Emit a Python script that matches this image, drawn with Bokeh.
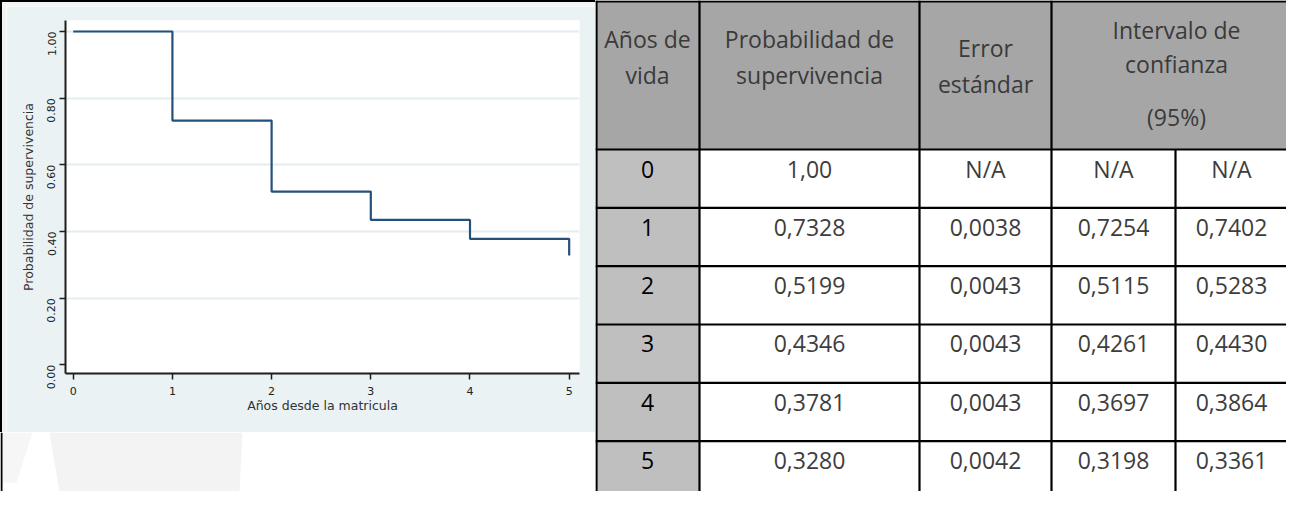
import math
from bokeh.plotting import figure
from bokeh.layouts import row, column
from bokeh.models import Range1d, FixedTicker, Spacer, PrintfTickFormatter
from bokeh.core.properties import value
from bokeh.embed import file_html
from bokeh.resources import INLINE

# ---------------- data ----------------
years = [0, 1, 2, 3, 4, 5]
surv = [1.00, 0.7328, 0.5199, 0.4346, 0.3781, 0.3280]
std_err = [None, 0.0038, 0.0043, 0.0043, 0.0043, 0.0042]
ci_low = [None, 0.7254, 0.5115, 0.4261, 0.3697, 0.3198]
ci_high = [None, 0.7402, 0.5283, 0.4430, 0.3864, 0.3361]

y_ticks = [0.0, 0.2, 0.4, 0.6, 0.8, 1.0]
y_tick_labels = ["0.00", "0.20", "0.40", "0.60", "0.80", "1.00"]
x_ticks = [0, 1, 2, 3, 4, 5]

y_title = "Probabilidad de supervivencia"
x_title = "Años desde la matricula"

col_headers = [
    ["Años de", "vida"],
    ["Probabilidad de", "supervivencia"],
    ["Error", "estándar"],
    ["Intervalo de", "confianza", "(95%)"],
]

# ---------------- left: Stata-like step plot ----------------
BG = "#eaf2f3"
g = figure(width=589, height=426,
           x_range=Range1d(-0.078, 5.104), y_range=Range1d(-0.026, 1.033),
           output_backend="svg", toolbar_location=None,
           min_border_left=59, min_border_right=16, min_border_top=14, min_border_bottom=59,
           border_fill_color=BG, background_fill_color="white", outline_line_color=None)
g.step(years, surv, mode="after", line_color="#24507a", line_width=2.2)

g.xaxis.ticker = FixedTicker(ticks=x_ticks)
g.yaxis.ticker = FixedTicker(ticks=y_ticks)
g.yaxis.formatter = PrintfTickFormatter(format="%.2f")
g.yaxis.major_label_overrides = dict(zip(y_ticks, y_tick_labels))
for ax in (g.xaxis[0], g.yaxis[0]):
    ax.axis_line_color = "#1e1e1e"
    ax.axis_line_width = 2
    ax.major_tick_line_color = "#1e1e1e"
    ax.major_tick_line_width = 1.5
    ax.major_tick_out = 6
    ax.major_tick_in = 0
    ax.minor_tick_out = 0
    ax.minor_tick_in = 0
    ax.major_label_text_font = "DejaVu Sans"
    ax.major_label_text_font_size = "11px"
    ax.major_label_text_color = "#222222"
    ax.axis_label_text_font = "DejaVu Sans"
    ax.axis_label_text_font_size = "12.5px"
    ax.axis_label_text_font_style = "normal"
    ax.axis_label_text_color = "#333333"
g.yaxis.major_label_orientation = math.pi / 2
g.yaxis.major_label_standoff = 8
g.xaxis.major_label_standoff = 7
g.yaxis.axis_label = y_title
g.xaxis.axis_label = x_title
g.yaxis.axis_label_standoff = 5
g.xaxis.axis_label_standoff = 0
g.xgrid.visible = False
g.ygrid.ticker = FixedTicker(ticks=y_ticks[1:])
g.ygrid.grid_line_color = "#e3ecef"
g.ygrid.grid_line_width = 2

top_strip = Spacer(width=595, height=6, styles={
    "background": "linear-gradient(#000 0px, #000 2px, transparent 2px), "
                  "linear-gradient(90deg, #000 0px, #000 2px, #f4f4f4 2px)"})
left_strip = Spacer(width=6, height=426, styles={
    "background": "linear-gradient(90deg, #000 0px, #000 2px, #f2f2f2 2px)"})

b = figure(width=595, height=59, x_range=Range1d(8, 603), y_range=Range1d(499, 440),
           x_axis_location=None, y_axis_location=None, min_border=0,
           toolbar_location=None, output_backend="svg", outline_line_color=None,
           background_fill_color="white", border_fill_color="white")
b.grid.visible = False
b.patch([57, 250, 247, 67], [440, 440, 499, 499], fill_color="#f3f3f3", line_color=None)
b.patch([10, 40, 24, 10], [440, 440, 490, 490], fill_color="#f6f6f6", line_color=None)
b.quad(left=[8], right=[10], top=[440], bottom=[499], fill_color="black", line_color=None)

left_col = column(top_strip, row(left_strip, g), b)

# ---------------- right: table ----------------
X0, X1, Y0, Y1 = 603, 1294, 8, 499
col_edges = [603, 707, 927, 1059, 1183]
col_centers = [655, 817, 993, 1121, 1239]
header_bottom = 157
row_h = 58.33
row_tops = [header_bottom + i * row_h for i in range(6)]

t = figure(width=X1 - X0, height=Y1 - Y0, x_range=Range1d(X0, X1), y_range=Range1d(Y1, Y0),
           x_axis_location=None, y_axis_location=None, min_border=0,
           toolbar_location=None, output_backend="svg", outline_line_color=None,
           background_fill_color="white", border_fill_color="white")
t.grid.visible = False
t.quad(left=[X0], right=[X1], top=[Y0], bottom=[header_bottom], fill_color="#a6a6a6", line_color=None)
t.quad(left=[X0], right=[col_edges[1]], top=[header_bottom], bottom=[Y1], fill_color="#bfbfbf", line_color=None)

# grid lines
vx0 = [col_edges[0] + 1, col_edges[1], col_edges[2], col_edges[3], col_edges[4]]
vy0 = [Y0, Y0, Y0, Y0, header_bottom]
t.segment(x0=vx0, y0=vy0, x1=vx0, y1=[Y1] * 5, line_color="black", line_width=2.2)
hy = [Y0 + 1] + row_tops
t.segment(x0=[X0] * len(hy), y0=hy, x1=[X1] * len(hy), y1=hy, line_color="black", line_width=2.2)

FONT = value("Open Sans")
# header
hx, hyy, ht = [], [], []
header_y = [[46.5, 82], [46.5, 82], [55, 91], [37.6, 71, 124]]
header_x = [col_centers[0], col_centers[1], col_centers[2], (col_edges[3] + 1309) / 2]
for lines, ys, xc in zip(col_headers, header_y, header_x):
    for s, yy in zip(lines, ys):
        hx.append(xc); hyy.append(yy); ht.append(s)
t.text(x=hx, y=hyy, text=ht, text_align="center", text_baseline="middle",
       text_font=FONT, text_font_size="23px", text_color="#3a3a3a")


def fmt(v, dec=4):
    if v is None:
        return "N/A"
    return f"{v:.{dec}f}".replace(".", ",")


rx, ry, rt = [], [], []
vx, vy, vt = [], [], []
for i, yr in enumerate(years):
    yc = row_tops[i] + 19.5
    rx.append(col_centers[0]); ry.append(yc); rt.append(str(yr))
    vals = [fmt(surv[i], 2 if surv[i] == 1 else 4), fmt(std_err[i]), fmt(ci_low[i]), fmt(ci_high[i])]
    for j, s in enumerate(vals):
        vx.append(col_centers[j + 1]); vy.append(yc); vt.append(s)
t.text(x=rx, y=ry, text=rt, text_align="center", text_baseline="middle",
       text_font=FONT, text_font_size="23px", text_color="#000000")
t.text(x=vx, y=vy, text=vt, text_align="center", text_baseline="middle",
       text_font=FONT, text_font_size="23px", text_color="#3d3d3d")

layout = row(left_col, t)
open("out.html", "w").write(file_html(layout, INLINE))
